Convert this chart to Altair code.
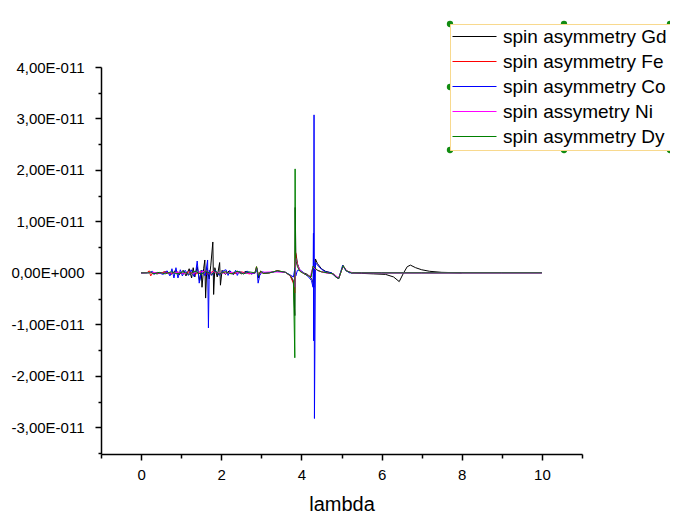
import altair as alt
import pandas as pd

# ---------------- data (lambda, spin asymmetry in units of 1E-011) ----------------
x_gd = [0.00, 0.20, 0.40, 0.60, 0.75, 0.85, 0.95, 1.05, 1.12, 1.20,
        1.26, 1.30, 1.34, 1.40, 1.46, 1.50, 1.52, 1.56, 1.59, 1.61,
        1.64, 1.70, 1.74, 1.79, 1.81, 1.84, 1.90, 1.96, 1.98, 2.02,
        2.10, 2.20, 2.30, 2.40, 2.50, 2.62, 2.75, 2.85, 2.89, 2.93,
        2.98, 3.05, 3.20, 3.40, 3.60, 3.72, 3.80, 3.835, 3.845, 3.86,
        3.90, 3.96, 4.05, 4.15, 4.22, 4.28, 4.31, 4.35, 4.40, 4.50,
        4.60, 4.75, 4.86, 4.93, 5.04, 5.12, 5.25, 5.50, 5.80, 6.10,
        6.30, 6.44, 6.55, 6.64, 6.72, 6.85, 7.00, 7.20, 7.50, 8.00]
y_gd = [0.00, 0.01, -0.02, 0.02, -0.03, 0.04, -0.04, 0.05, -0.06, 0.08,
        -0.10, 0.10, -0.08, 0.12, -0.15, 0.05, -0.28, 0.08, 0.25, -0.49,
        0.10, -0.12, 0.15, 0.60, -0.42, 0.10, -0.08, 0.20, -0.24, 0.05,
        -0.03, 0.04, -0.03, 0.03, -0.02, 0.03, -0.02, 0.00, 0.08, -0.10,
        0.03, -0.01, 0.00, 0.04, 0.01, -0.05, -0.18, -0.83, 1.27, 0.40,
        0.18, 0.05, 0.00, -0.03, -0.08, -0.15, -0.28, 0.27, 0.18, 0.08,
        0.03, 0.00, -0.08, -0.11, 0.14, 0.04, 0.00, -0.01, -0.02, -0.03,
        -0.08, -0.17, 0.00, 0.12, 0.15, 0.10, 0.06, 0.03, 0.01, 0.00]

x_fe = [0.00, 0.15, 0.20, 0.24, 0.30, 0.45, 0.60, 0.75, 0.90, 1.05,
        1.20, 1.35, 1.50, 1.65, 1.80, 1.95, 2.10, 2.30, 2.50, 2.70,
        2.84, 2.88, 2.93, 2.98, 3.05, 3.20, 3.40, 3.60, 3.72, 3.80,
        3.835, 3.85, 3.87, 3.90, 3.96, 4.05, 4.15, 4.24, 4.29, 4.33,
        4.40, 4.50, 4.65, 4.80, 4.86, 4.93, 5.04, 5.12, 5.25, 5.50,
        6.00, 7.00, 8.00, 9.00, 10.00]
y_fe = [0.00, 0.00, 0.04, -0.06, 0.01, -0.01, 0.02, -0.02, 0.02, -0.02,
        0.02, -0.03, 0.03, -0.03, 0.03, -0.02, 0.02, -0.02, 0.02, -0.02,
        0.00, 0.12, -0.06, 0.03, -0.01, 0.00, 0.04, 0.01, -0.06, -0.20,
        -0.39, 0.43, 0.30, 0.15, 0.04, -0.01, -0.05, -0.08, 0.13, 0.10,
        0.05, 0.02, 0.00, -0.02, -0.08, -0.11, 0.14, 0.04, 0.00, 0.00,
        0.00, 0.00, 0.00, 0.00, 0.00]

x_co = [0.00, 0.20, 0.28, 0.32, 0.40, 0.55, 0.65, 0.72, 0.77, 0.82,
        0.87, 0.92, 0.98, 1.03, 1.10, 1.18, 1.25, 1.32, 1.37, 1.40,
        1.45, 1.52, 1.60, 1.66, 1.68, 1.70, 1.76, 1.85, 1.95, 2.05,
        2.12, 2.17, 2.22, 2.30, 2.36, 2.40, 2.45, 2.55, 2.65, 2.75,
        2.85, 2.89, 2.92, 2.96, 3.02, 3.10, 3.25, 3.40, 3.60, 3.72,
        3.80, 3.84, 3.86, 3.90, 3.98, 4.08, 4.18, 4.25, 4.29, 4.30,
        4.305, 4.315, 4.325, 4.35, 4.40, 4.50, 4.60, 4.75, 4.86, 4.93,
        5.03, 5.10, 5.20, 5.50, 6.00, 7.00, 8.00, 9.00, 10.00]
y_co = [0.00, 0.00, 0.03, -0.03, 0.01, -0.03, 0.04, -0.06, 0.08, -0.10,
        0.10, -0.10, 0.06, -0.06, 0.05, -0.05, 0.06, -0.07, 0.05, 0.23,
        -0.20, 0.05, -0.06, 0.25, -1.07, 0.05, -0.05, 0.05, -0.05, 0.04,
        0.06, -0.05, 0.04, -0.03, 0.05, -0.05, 0.03, -0.02, 0.03, -0.02,
        0.00, 0.08, -0.20, -0.05, 0.02, 0.00, 0.01, 0.03, 0.01, -0.04,
        -0.08, 0.10, -0.06, 0.05, 0.05, -0.02, -0.08, -0.15, -0.28, 0.77,
        -1.32, 3.07, -2.83, 0.20, 0.15, 0.07, 0.02, 0.00, -0.08, -0.11,
        0.15, 0.05, 0.00, 0.00, 0.00, 0.00, 0.00, 0.00, 0.00]

x_ni = [0.00, 0.30, 0.60, 0.90, 1.20, 1.50, 1.65, 1.72, 1.80, 2.00,
        2.30, 2.60, 2.84, 2.88, 2.93, 3.00, 3.30, 3.60, 3.75, 3.82,
        3.84, 3.86, 3.90, 3.98, 4.10, 4.22, 4.29, 4.33, 4.45, 4.60,
        4.80, 4.93, 5.04, 5.15, 5.30, 6.00, 7.00, 8.00, 9.00, 10.00]
y_ni = [0.00, 0.01, -0.01, 0.01, -0.02, 0.02, 0.04, -0.03, 0.02, -0.01,
        0.01, -0.01, 0.00, 0.10, -0.05, 0.01, 0.02, 0.01, -0.07, -0.18,
        -0.28, 0.28, 0.15, 0.03, -0.03, -0.07, 0.12, 0.08, 0.03, 0.00,
        -0.02, -0.10, 0.13, 0.03, 0.00, 0.00, 0.00, 0.00, 0.00, 0.00]

x_dy = [0.00, 0.20, 0.25, 0.30, 0.45, 0.60, 0.75, 0.90, 1.05, 1.20,
        1.35, 1.50, 1.62, 1.75, 1.85, 1.95, 2.10, 2.25, 2.40, 2.55,
        2.70, 2.84, 2.88, 2.93, 2.98, 3.05, 3.20, 3.40, 3.60, 3.72,
        3.80, 3.835, 3.843, 3.85, 3.87, 3.90, 3.96, 4.05, 4.15, 4.24,
        4.29, 4.33, 4.40, 4.50, 4.65, 4.80, 4.86, 4.93, 5.04, 5.12,
        5.25, 5.50, 6.00, 7.00, 8.00, 9.00, 10.00]
y_dy = [0.00, 0.00, 0.02, -0.02, 0.01, -0.02, 0.02, -0.02, 0.02, -0.03,
        0.03, -0.03, 0.04, -0.03, 0.03, -0.02, 0.02, -0.02, 0.03, -0.02,
        0.02, 0.00, 0.12, -0.06, 0.03, -0.01, 0.00, 0.04, 0.01, -0.05,
        -0.15, -1.65, 2.02, 0.35, 0.22, 0.12, 0.03, -0.01, -0.05, -0.08,
        0.13, 0.10, 0.05, 0.02, 0.00, -0.02, -0.08, -0.11, 0.14, 0.04,
        0.00, 0.00, 0.00, 0.00, 0.00, 0.00, 0.00]

series_names = ["spin asymmetry Gd", "spin asymmetry Fe", "spin asymmetry Co",
                "spin assymetry Ni", "spin asymmetry Dy"]
series_colors = ["#000000", "#ff0000", "#0000ff", "#ff00ff", "#008000"]

x_major = [0, 2, 4, 6, 8, 10]
x_minor = [-1, 1, 3, 5, 7, 9, 11]
y_major = [-3, -2, -1, 0, 1, 2, 3, 4]
y_minor = [-3.5, -2.5, -1.5, -0.5, 0.5, 1.5, 2.5, 3.5]

# ---------------- build table ----------------
frames = []
for name, xs, ys in zip(series_names, [x_gd, x_fe, x_co, x_ni, x_dy],
                        [y_gd, y_fe, y_co, y_ni, y_dy]):
    d = pd.DataFrame({"lambda": xs, "value": ys})
    d["series"] = name
    frames.append(d)
df = pd.concat(frames, ignore_index=True)

FONT = "Liberation Sans"
x_scale = alt.Scale(domain=[-1, 11], nice=False, zero=False)
y_scale = alt.Scale(domain=[-3.52, 4.0], nice=False, zero=False)

y_label_expr = ("(datum.value < 0 ? '-' : '') + replace(format(abs(datum.value), '.2f'), '.', ',')"
                " + (datum.value == 0 ? 'E+000' : 'E-011')")

x_axis = alt.Axis(values=x_major, format="d", title="lambda", orient="bottom", grid=False,
                  labelFont=FONT, labelFontSize=15, labelColor="#000000", labelPadding=7,
                  tickSize=6, tickWidth=1.5, tickColor="#000000",
                  domainColor="#000000", domainWidth=1.5,
                  titleFont=FONT, titleFontSize=20, titleFontWeight="normal",
                  titleColor="#000000", titlePadding=12)
y_axis = alt.Axis(values=y_major, labelExpr=y_label_expr, title="", orient="left", grid=False,
                  labelFont=FONT, labelFontSize=15, labelColor="#000000", labelPadding=11,
                  tickSize=6, tickWidth=1.5, tickColor="#000000",
                  domainColor="#000000", domainWidth=1.5)

x_axis_minor = alt.Axis(values=x_minor, labels=False, domain=False, grid=False, title="",
                        orient="bottom", tickSize=4, tickWidth=1.5, tickColor="#000000")
y_axis_minor = alt.Axis(values=y_minor, labels=False, domain=False, grid=False, title="",
                        orient="left", tickSize=3, tickWidth=1.5, tickColor="#000000")

minor = alt.Chart(df).mark_point(opacity=0).encode(
    x=alt.X("lambda:Q", scale=x_scale, axis=x_axis_minor),
    y=alt.Y("value:Q", scale=y_scale, axis=y_axis_minor),
)

lines = alt.Chart(df).mark_line(strokeWidth=1, clip=False).encode(
    x=alt.X("lambda:Q", scale=x_scale, axis=x_axis),
    y=alt.Y("value:Q", scale=y_scale, axis=y_axis),
    color=alt.Color("series:N", sort=series_names,
                    scale=alt.Scale(domain=series_names, range=series_colors),
                    legend=alt.Legend(orient="none", legendX=349, legendY=-43, title="",
                                      labelFont=FONT, labelFontSize=19, labelColor="#000000",
                                      labelLimit=400, symbolType="M-2,0H6.8", symbolSize=100,
                                      symbolStrokeWidth=1, labelOffset=31, rowPadding=5,
                                      padding=3, strokeColor="#f8d98e", fillColor="#ffffff")),
)

# Origin-style selection handles on the legend frame
handle_positions = [(349, -43), (463, -43), (569, -43), (349, 20),
                    (569, 20), (349, 83), (463, 83), (569, 83)]
handles = []
for hx, hy in handle_positions:
    handles.append(
        alt.Chart(pd.DataFrame({"h": [0]})).mark_point(
            filled=True, shape="circle", size=40, color="#118c11", opacity=1
        ).encode(x=alt.value(hx), y=alt.value(hy))
    )

chart = alt.layer(minor, lines, *handles).resolve_axis(
    x="independent", y="independent"
).properties(
    width=481, height=387,
    autosize=alt.AutoSizeParams(type="none"),
    padding={"left": 93, "top": 59, "right": 88, "bottom": 62},
).configure_view(stroke="transparent")

chart.save("out.html", embed_options={"renderer": "svg", "actions": False})
